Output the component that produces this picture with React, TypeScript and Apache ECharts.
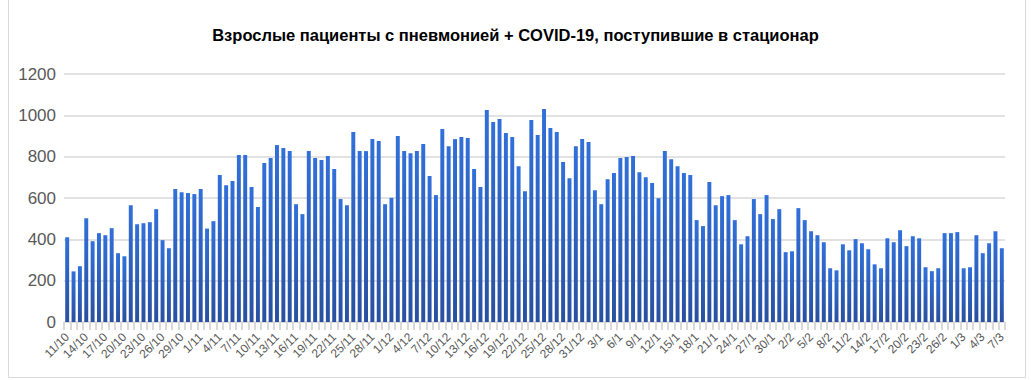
import React, { useEffect, useRef } from "react";
import * as echarts from "echarts";

const TITLE = "Взрослые пациенты с пневмонией + COVID-19, поступившие в стационар";

// Daily categories: 11 Oct .. 7 Mar (day/month)
const START_DAY = 11;
const MONTHS = [
  { m: 10, days: 31 },
  { m: 11, days: 30 },
  { m: 12, days: 31 },
  { m: 1, days: 31 },
  { m: 2, days: 28 },
  { m: 3, days: 7 },
];
const categories: string[] = [];
MONTHS.forEach((mo, i) => {
  for (let d = i === 0 ? START_DAY : 1; d <= mo.days; d++) categories.push(`${d}/${mo.m}`);
});

const octValues = [410, 245, 270, 502, 391, 430, 420, 454, 333, 318, 565, 473, 478, 483, 546, 396, 357, 643, 628, 624, 619];
const novValues = [643, 452, 488, 711, 662, 682, 808, 808, 653, 556, 769, 793, 856, 842, 827, 570, 522, 827, 793, 784, 803, 740, 595, 565, 919, 827, 827, 885, 876, 570];
const decValues = [601, 900, 827, 817, 827, 861, 706, 614, 934, 851, 885, 895, 890, 740, 653, 1026, 968, 982, 914, 895, 754, 633, 977, 905, 1031, 939, 919, 774, 696, 851, 885];
const janValues = [871, 638, 570, 691, 721, 793, 798, 803, 725, 701, 672, 599, 827, 788, 754, 721, 711, 493, 464, 677, 565, 609, 614, 493, 376, 415, 595, 522, 614, 498, 546];
const febValues = [338, 342, 551, 493, 439, 420, 386, 260, 250, 376, 347, 401, 381, 352, 279, 260, 405, 386, 444, 367, 415, 405, 265, 246, 260, 430, 430, 435];
const marValues = [260, 265, 420, 333, 381, 439, 357];
const values = [...octValues, ...novValues, ...decValues, ...janValues, ...febValues, ...marValues];

const Y_MIN = 0;
const Y_MAX = 1200;
const Y_STEP = 200;

export default function App() {
  const ref = useRef<HTMLDivElement>(null);
  useEffect(() => {
    if (!ref.current) return;
    const chart = echarts.init(ref.current, null, { renderer: "svg" });
    chart.setOption({
      animation: false,
      backgroundColor: "#ffffff",
      title: {
        text: TITLE,
        left: "center",
        top: 21,
        textStyle: {
          fontFamily: "Liberation Sans, Arial, sans-serif",
          fontSize: 16.5,
          fontWeight: "bold",
          color: "#000000",
        },
      },
      graphic: [
        {
          type: "polyline",
          shape: { points: [[8.5, 0], [8.5, 377.5], [1025.5, 377.5], [1025.5, 0]] },
          style: { stroke: "#d9d9d9", lineWidth: 1, fill: null },
          silent: true,
        },
      ],
      grid: { left: 64, right: 26, top: 74, bottom: 58, containLabel: false },
      xAxis: {
        type: "category",
        data: categories,
        axisLine: { lineStyle: { color: "#d9d9d9", width: 1 } },
        axisTick: { show: true, interval: 0, length: 8, lineStyle: { color: "#d9d9d9", width: 2 } },
        axisLabel: {
          interval: 2,
          rotate: 45,
          color: "#595959",
          fontSize: 12,
          fontFamily: "Liberation Sans, Arial, sans-serif",
          margin: 13,
        },
      },
      yAxis: {
        type: "value",
        min: Y_MIN,
        max: Y_MAX,
        interval: Y_STEP,
        axisLine: { show: false },
        axisTick: { show: false },
        splitLine: { lineStyle: { color: "#d9d9d9", width: 1.5 } },
        axisLabel: {
          color: "#595959",
          fontSize: 17,
          fontFamily: "Liberation Sans, Arial, sans-serif",
          margin: 8,
          formatter: (v: number) => String(v),
        },
      },
      series: [
        {
          type: "bar",
          data: values,
          barWidth: "62%",
          itemStyle: {
            color: new echarts.graphic.LinearGradient(0, 0, 0, 1, [
              { offset: 0, color: "#3170da" },
              { offset: 1, color: "#2950a0" },
            ]),
          },
        },
      ],
    });
    return () => chart.dispose();
  }, []);
  return (
    <div
      ref={ref}
      style={{ position: "fixed", left: 0, top: 0, width: 1031, height: 380 }}
    />
  );
}
